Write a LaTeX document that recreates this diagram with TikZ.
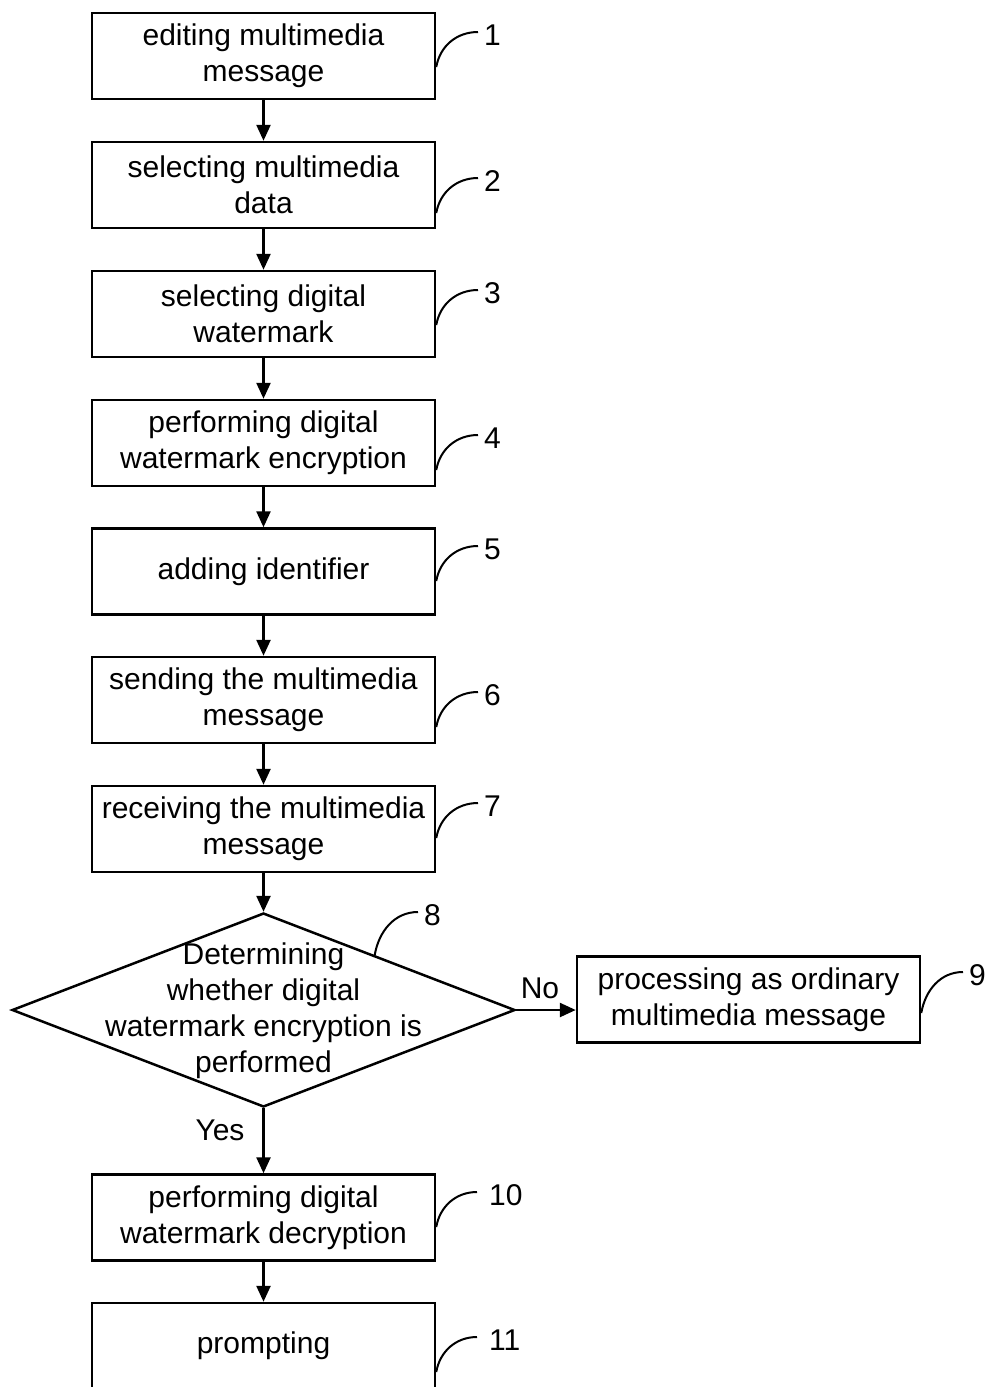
\documentclass[tikz,border=0pt]{standalone}
\usepackage{fontspec}
\setmainfont{Liberation Sans}
\usetikzlibrary{arrows.meta,shapes.geometric,calc}
\tikzset{
  stepbox/.style={draw, line width=2.5pt, minimum width=343pt, minimum height=86pt, inner sep=0pt, align=center, font=\fontsize{30}{36}\selectfont},
  flow/.style={line width=2.5pt, -{Triangle[length=16pt,width=14pt]}},
  leader/.style={line width=2pt},
  reflabel/.style={anchor=west, inner xsep=6pt, inner ysep=0pt, font=\fontsize{30}{34}\selectfont},
  plain/.style={font=\fontsize{30}{36}\selectfont, align=center, inner sep=0pt}
}
\begin{document}
\begin{tikzpicture}[x=1pt,y=1pt]
\useasboundingbox (0,0) rectangle (988,-1387);
\clip (0,0) rectangle (988,-1387);
\fill[white] (0,0) rectangle (988,-1387);
% boxes
\node[stepbox] (b1) at (263.5,-56) {editing multimedia\\message};
\node[stepbox] (b2) at (263.5,-185) {selecting multimedia\\data};
\node[stepbox] (b3) at (263.5,-314) {selecting digital\\watermark};
\node[stepbox] (b4) at (263.5,-443) {performing digital\\watermark encryption};
\node[stepbox] (b5) at (263.5,-571.5) {adding identifier};
\node[stepbox] (b6) at (263.5,-700) {sending the multimedia\\message};
\node[stepbox] (b7) at (263.5,-829) {receiving the multimedia\\message};
\node[draw, diamond, line width=2.5pt, minimum width=503pt, minimum height=194pt, inner sep=0pt] (dec) at (263.5,-1010) {};
\node[plain] (dtext) at (263.5,-1011) {Determining\\whether digital\\watermark encryption is\\performed};
\node[stepbox] (b9) at (748.5,-999.5) {processing as ordinary\\multimedia message};
\node[stepbox] (b10) at (263.5,-1217.5) {performing digital\\watermark decryption};
\node[stepbox] (b11) at (263.5,-1346) {prompting};
% flow arrows
\draw[flow] (b1) -- (b2);
\draw[flow] (b2) -- (b3);
\draw[flow] (b3) -- (b4);
\draw[flow] (b4) -- (b5);
\draw[flow] (b5) -- (b6);
\draw[flow] (b6) -- (b7);
\draw[flow] (b7) -- (dec.north);
\draw[flow] (dec.east) -- (b9.west |- dec.east);
\draw[flow] (dec.south) -- (b10.north);
\draw[flow] (b10) -- (b11);
\node[plain] (no) at (540,-988) {No};
\node[plain] (yes) at (220,-1130) {Yes};
% reference labels
\node[reflabel] (l1) at (478,-35) {1};
\node[reflabel] (l2) at (478,-181) {2};
\node[reflabel] (l3) at (478,-293) {3};
\node[reflabel] (l4) at (478,-438) {4};
\node[reflabel] (l5) at (478,-549) {5};
\node[reflabel] (l6) at (478,-695) {6};
\node[reflabel] (l7) at (478,-806) {7};
\node[reflabel] (l8) at (418,-915) {8};
\node[reflabel] (l9) at (963,-975) {9};
\node[reflabel, inner xsep=12pt] (l10) at (477,-1195) {10};
\node[reflabel, inner xsep=12pt] (l11) at (477,-1340) {11};
\foreach \b/\l in {b1/l1,b2/l2,b3/l3,b4/l4,b5/l5,b6/l6,b7/l7,b10/l10,b11/l11}{
  \draw[leader] ($(\b.east |- \l.west)+(0,-32)$) to[out=80,in=180] ($(\l.west)+(0,3)$);
}
\draw[leader] ($(b9.east |- l9.west)+(0,-38)$) to[out=80,in=180] ($(l9.west)+(0,3)$);
\draw[leader] ($(dec.north)!0.44!(dec.east)$) to[out=80,in=180] ($(l8.west)+(0,3)$);
\end{tikzpicture}
\end{document}
